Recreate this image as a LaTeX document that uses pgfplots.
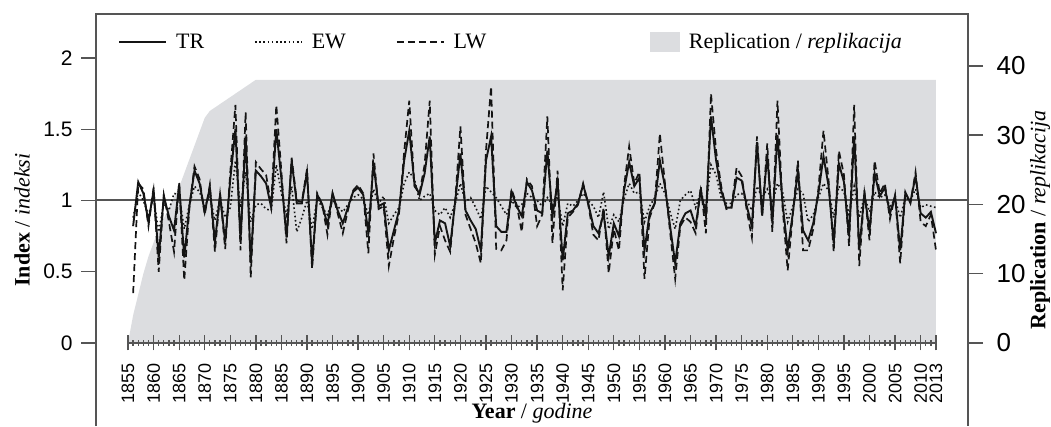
\documentclass[border=0pt]{standalone}
\usepackage{fontspec}
\setmainfont{Liberation Serif}
\newfontfamily\arialf{Liberation Sans}
\usepackage{pgfplots}
\usepackage{pgfplotstable}
\pgfplotsset{compat=1.18}

\definecolor{repgray}{RGB}{220,221,224}
\definecolor{framegray}{RGB}{85,85,85}
\definecolor{linegray}{RGB}{20,20,20}

% chronology indices
\pgfplotstableread{
year TR EW LW
1856 0.82 0.88 0.35
1857 1.13 1.06 1.12
1858 1.05 1.00 1.08
1859 0.85 0.90 0.82
1860 1.07 1.02 1.09
1861 0.60 0.78 0.50
1862 1.03 0.98 1.04
1863 0.89 0.93 0.85
1864 0.79 1.05 0.64
1865 1.11 1.04 1.13
1866 0.60 0.80 0.44
1867 0.96 0.97 0.95
1868 1.21 1.10 1.24
1869 1.12 1.06 1.15
1870 0.92 0.96 0.90
1871 1.09 1.03 1.11
1872 0.71 0.86 0.64
1873 1.04 1.01 1.05
1874 0.71 0.88 0.66
1875 1.15 0.95 1.20
1876 1.50 1.28 1.67
1877 0.72 0.95 0.65
1878 1.45 1.20 1.62
1879 0.56 0.85 0.46
1880 1.21 0.97 1.27
1881 1.17 0.98 1.22
1882 1.12 0.94 1.18
1883 0.95 0.93 0.97
1884 1.50 1.25 1.67
1885 1.15 1.05 1.20
1886 0.74 0.90 0.70
1887 1.28 1.10 1.30
1888 0.98 0.78 1.00
1889 0.98 0.88 0.99
1890 1.20 1.00 1.22
1891 0.56 0.80 0.52
1892 1.04 1.01 1.05
1893 0.97 0.95 0.97
1894 0.83 0.90 0.76
1895 1.05 1.00 1.05
1896 0.93 0.96 0.91
1897 0.84 0.92 0.77
1898 0.95 0.97 0.93
1899 1.06 1.02 1.07
1900 1.09 1.04 1.11
1901 1.04 1.01 1.05
1902 0.77 0.90 0.63
1903 1.26 1.08 1.33
1904 0.96 0.98 0.94
1905 0.98 1.03 0.96
1906 0.65 0.84 0.54
1907 0.79 0.90 0.74
1908 0.93 0.95 0.91
1909 1.28 1.12 1.34
1910 1.49 1.20 1.70
1911 1.12 1.15 1.10
1912 1.04 1.00 1.05
1913 1.19 1.03 1.25
1914 1.45 1.05 1.70
1915 0.70 0.93 0.62
1916 0.86 0.90 0.82
1917 0.84 0.95 0.72
1918 0.68 0.88 0.64
1919 1.00 0.98 1.01
1920 1.33 1.12 1.52
1921 0.93 0.99 0.90
1922 0.86 1.02 0.80
1923 0.80 0.95 0.70
1924 0.65 0.87 0.56
1925 1.28 1.10 1.35
1926 1.45 1.06 1.80
1927 0.82 1.02 0.66
1928 0.78 0.96 0.65
1929 0.78 0.90 0.72
1930 1.06 1.00 1.08
1931 0.96 0.95 0.97
1932 0.89 0.97 0.78
1933 1.13 1.05 1.15
1934 1.07 1.02 1.10
1935 0.93 1.00 0.82
1936 0.91 0.96 0.90
1937 1.35 1.02 1.59
1938 0.89 0.97 0.70
1939 1.13 1.03 1.21
1940 0.58 0.82 0.37
1941 0.91 0.98 0.88
1942 0.93 0.96 0.92
1943 0.98 1.00 0.97
1944 1.11 1.05 1.12
1945 0.98 1.00 0.97
1946 0.82 0.96 0.76
1947 0.77 0.88 0.72
1948 0.91 1.06 0.95
1949 0.61 0.80 0.49
1950 0.84 0.90 0.80
1951 0.75 0.85 0.65
1952 1.07 1.01 1.10
1953 1.27 1.12 1.38
1954 1.10 1.05 1.12
1955 1.16 1.06 1.20
1956 0.65 0.85 0.45
1957 0.91 0.96 0.88
1958 0.98 1.02 0.98
1959 1.28 1.12 1.47
1960 1.10 1.05 1.12
1961 0.82 0.92 0.78
1962 0.56 0.80 0.45
1963 0.84 1.00 0.82
1964 0.91 1.04 0.88
1965 0.93 1.07 0.85
1966 0.82 0.95 0.77
1967 1.07 1.06 1.10
1968 0.89 0.95 0.77
1969 1.59 1.25 1.75
1970 1.28 1.18 1.35
1971 1.07 1.02 1.10
1972 0.95 0.98 0.94
1973 0.95 0.98 0.95
1974 1.16 1.04 1.23
1975 1.14 1.05 1.17
1976 0.96 1.00 0.93
1977 0.82 0.93 0.74
1978 1.41 1.10 1.45
1979 0.90 1.02 0.88
1980 1.32 1.08 1.40
1981 0.84 0.98 0.78
1982 1.46 1.12 1.70
1983 0.98 1.06 0.95
1984 0.65 0.85 0.51
1985 0.91 0.96 0.90
1986 1.21 1.08 1.28
1987 0.79 1.05 0.65
1988 0.72 0.85 0.65
1989 0.84 0.90 0.80
1990 1.05 1.02 1.08
1991 1.31 1.12 1.49
1992 1.10 1.07 1.14
1993 0.70 0.88 0.64
1994 1.26 1.10 1.35
1995 1.13 1.06 1.18
1996 0.75 0.90 0.68
1997 1.45 1.10 1.67
1998 0.65 0.88 0.54
1999 1.05 1.03 1.07
2000 0.79 0.92 0.72
2001 1.19 1.06 1.28
2002 1.03 1.02 1.05
2003 1.09 1.04 1.12
2004 0.91 0.96 0.87
2005 1.03 1.01 1.04
2006 0.65 0.88 0.56
2007 1.05 1.02 1.06
2008 0.99 1.00 0.98
2009 1.17 1.08 1.20
2010 0.91 0.95 0.85
2011 0.88 0.97 0.82
2012 0.92 0.96 0.90
2013 0.77 0.95 0.65
}\chron

% sample replication (number of series)
\pgfplotstableread{
year rep
1855 0
1856 4
1857 7
1858 10
1859 12.5
1860 14.5
1861 16.5
1862 18
1863 19.5
1864 21
1865 22.5
1866 24.5
1867 26.5
1868 28.5
1869 30.5
1870 32.5
1871 33.5
1872 34
1873 34.5
1874 35
1875 35.5
1876 36
1877 36.5
1878 37
1879 37.5
1880 38
2013 38
2013 0
}\repl

\pgfplotsset{
  chron frame/.style={
    at={(0pt,0pt)}, anchor=south west,
    scale only axis, width=872pt, height=412pt,
    xmin=1848.74, xmax=2019.26,
    clip=false,
    tick align=outside,
    major tick length=15pt,
    minor tick length=6pt,
    scaled x ticks=false, scaled y ticks=false,
    legend style={draw=none, fill=none, inner sep=0pt,
      font=\fontsize{22}{26}\selectfont},
    /tikz/every odd column/.append style={column sep=7pt},
    /pgf/number format/.cd, 1000 sep={}, assume math mode=true,
  },
}

\begin{document}
\begin{tikzpicture}
\useasboundingbox (-96pt,0pt) rectangle (955pt,426pt);

% replication (right axis)
\begin{axis}[chron frame,
  ymin=-11.99, ymax=47.5,
  axis x line=none,
  axis y line*=right,
  y axis line style={draw=none},
  ytick={0,10,20,30,40},
  ytick style={framegray, line width=1.5pt},
  yticklabel style={font=\arialf\fontsize{26}{28}\selectfont, xshift=10pt},
  ylabel={\textbf{Replication} / \textit{replikacija}},
  ylabel style={at={(rel axis cs:1,0.5)}, yshift=-72pt, anchor=center,
    font=\fontsize{22}{26}\selectfont},
  legend style={at={(0.635,0.932)}, anchor=west},
  legend image code/.code={\fill[repgray] (0pt,-10pt) rectangle (30pt,10pt);},
]
\addplot[fill=repgray, draw=none] table[x=year, y=rep] {\repl};
\addlegendentry{Replication / \textit{replikacija}}
\end{axis}

% indices (left axis)
\begin{axis}[chron frame,
  ymin=-0.5825, ymax=2.3088,
  axis x line=middle,
  axis y line*=left,
  x axis line style={draw=none},
  y axis line style={draw=none},
  xtick={1855,1860,...,2010,2013},
  minor xtick={1855,1856,...,2013},
  ytick={0,0.5,1,1.5,2},
  xtick style={framegray, line width=1.3pt},
  ytick style={framegray, line width=1.5pt},
  xticklabel style={font=\arialf\fontsize{18}{20}\selectfont, rotate=90,
    anchor=east, xshift=-9pt},
  yticklabel style={font=\arialf\fontsize{21}{24}\selectfont, xshift=-5pt},
  xlabel={\textbf{Year} / \textit{godine}},
  xlabel style={at={(rel axis cs:0.5,0)}, yshift=8pt, anchor=base,
    font=\fontsize{22}{26}\selectfont},
  ylabel={\textbf{Index} / \textit{indeksi}},
  ylabel style={at={(rel axis cs:0,0.5)}, yshift=74pt, anchor=center,
    font=\fontsize{22}{26}\selectfont},
  legend style={at={(0.0252,0.932)}, anchor=west},
  legend columns=3,
  legend cell align=left,
  /tikz/every even column/.append style={column sep=48pt},
  legend image code/.code={\draw[#1] (0pt,0pt) -- (47pt,0pt);},
]
\draw[framegray, line width=2pt] (rel axis cs:0,0) -- (rel axis cs:0,1)
  -- (rel axis cs:1,1) -- (rel axis cs:1,0);
\draw[framegray, line width=1.5pt] (axis cs:1855,0) -- (axis cs:2013,0);
\addplot[framegray, line width=2pt, forget plot] coordinates {(1848.74,1) (2019.26,1)};
\addplot[linegray, line width=1.9pt] table[x=year, y=TR] {\chron};
\addlegendentry{TR}
\addplot[linegray, line width=1.6pt, dash pattern=on 1.6pt off 2.6pt] table[x=year, y=EW] {\chron};
\addlegendentry{EW}
\addplot[linegray, line width=1.7pt, dash pattern=on 7pt off 4pt] table[x=year, y=LW] {\chron};
\addlegendentry{LW}
\end{axis}
\end{tikzpicture}
\end{document}
